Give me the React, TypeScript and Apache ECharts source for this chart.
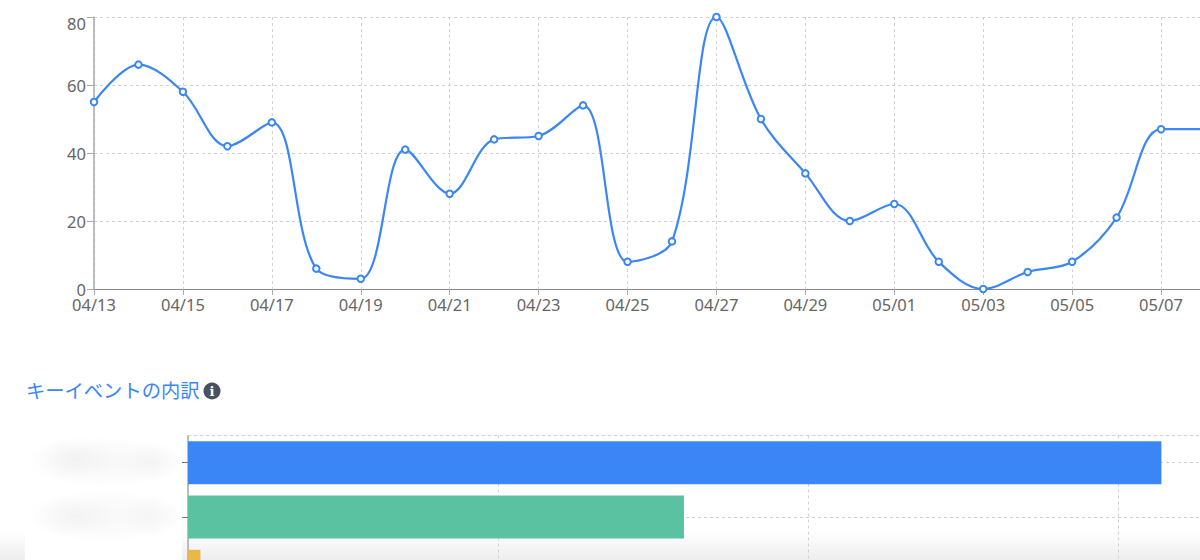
import React, { useEffect, useRef } from "react";
import * as echarts from "echarts";

const dates = ["04/13","04/14","04/15","04/16","04/17","04/18","04/19","04/20","04/21","04/22","04/23","04/24","04/25","04/26","04/27","04/28","04/29","04/30","05/01","05/02","05/03","05/04","05/05","05/06","05/07","05/08"];
const trend = [55,66,58,42,49,6,3,41,28,44,45,54,8,14,80,50,34,20,25,8,0,5,8,21,47,47];
const eventCategories = ["event-1", "event-2", "event-3"];
const eventValues = [314, 160, 4];
const eventColors = ["#3b86f7", "#5ac1a1", "#ebb64a"];
const title = "キーイベントの内訳";

const FONT = "'Noto Sans', Arial, sans-serif";
const GRID_LINE = { color: "#d2d2d2", type: [3, 3] as number[], width: 1 };

const blob = (cx: number, cy: number, rx: number, ry: number, shade: string) => ({
  type: "ellipse",
  z: -5,
  silent: true,
  shape: { cx, cy, rx, ry },
  style: {
    fill: new echarts.graphic.RadialGradient(0.5, 0.5, 0.5, [
      { offset: 0, color: shade },
      { offset: 1, color: "rgba(245,245,245,0)" },
    ]),
  },
});

export default function App() {
  const ref = useRef<HTMLDivElement>(null);
  useEffect(() => {
    const chart = echarts.init(ref.current!, undefined, { renderer: "svg" });
    chart.setOption({
      animation: false,
      backgroundColor: "#ffffff",
      grid: [
        { left: 94, top: 17, width: 1111.5, height: 272, outerBoundsMode: "none" },
        { left: 188, top: 435.5, width: 1240, height: 163, outerBoundsMode: "none" },
      ],
      xAxis: [
        {
          type: "category",
          gridIndex: 0,
          data: dates,
          boundaryGap: false,
          axisLine: { lineStyle: { color: "#888888", width: 1.2 } },
          axisTick: { interval: 1, length: 6, lineStyle: { color: "#aaaaaa" } },
          axisLabel: { interval: 1, color: "#666666", fontFamily: FONT, fontSize: 16.5, lineHeight: 13, margin: 9 },
          splitLine: { show: true, interval: 1, lineStyle: GRID_LINE },
        },
        {
          type: "value",
          gridIndex: 1,
          min: 0,
          max: 400,
          interval: 100,
          axisLine: { show: false },
          axisTick: { show: false },
          axisLabel: { show: false },
          splitLine: { show: true, lineStyle: GRID_LINE },
        },
        {
          type: "value",
          gridIndex: 1,
          position: "top",
          min: 0,
          max: 400,
          interval: 400,
          axisLine: { show: true, lineStyle: GRID_LINE },
          axisTick: { show: false },
          axisLabel: { show: false },
          splitLine: { show: false },
        },
      ],
      yAxis: [
        {
          type: "value",
          gridIndex: 0,
          min: 0,
          max: 80,
          interval: 20,
          axisLine: { show: true, lineStyle: { color: "#aaaaaa", width: 1.5 } },
          axisTick: { show: true, length: 7, lineStyle: { color: "#aaaaaa" } },
          axisLabel: {
            color: "#666666",
            fontFamily: FONT,
            fontSize: 16.5,
            lineHeight: 13,
            margin: 8,
            verticalAlignMaxLabel: "top",
          },
          splitLine: { show: true, lineStyle: GRID_LINE },
        },
        {
          type: "category",
          gridIndex: 1,
          inverse: true,
          data: eventCategories,
          axisLine: { show: true, lineStyle: { color: "#aaaaaa", width: 1.5 } },
          axisTick: { show: true, alignWithLabel: true, length: 6, lineStyle: { color: "#777777" } },
          axisLabel: { show: false },
          splitLine: { show: true, alignWithLabel: true, lineStyle: GRID_LINE },
        },
      ],
      series: [
        {
          type: "line",
          xAxisIndex: 0,
          yAxisIndex: 0,
          data: trend,
          smooth: 0.35,
          clip: false,
          symbol: "circle",
          symbolSize: 6.5,
          showSymbol: true,
          showAllSymbol: true,
          lineStyle: { color: "#3b86f7", width: 2.2 },
          itemStyle: { color: "#ffffff", borderColor: "#3b86f7", borderWidth: 2 },
        },
        {
          type: "bar",
          xAxisIndex: 1,
          yAxisIndex: 1,
          barWidth: 43,
          data: eventValues.map((value, i) => ({ value, itemStyle: { color: eventColors[i] } })),
        },
      ],
      graphic: [
        {
          type: "rect",
          z: -10,
          silent: true,
          shape: { x: 0, y: 530, width: 1200, height: 30 },
          style: {
            fill: new echarts.graphic.LinearGradient(0, 0, 0, 1, [
              { offset: 0, color: "#ffffff" },
              { offset: 1, color: "#eeeeee" },
            ]),
          },
        },
        {
          type: "rect",
          z: -9,
          silent: true,
          shape: { x: 25, y: 430, width: 157, height: 130 },
          style: { fill: "#ffffff" },
        },
        blob(103, 462, 78, 26, "#f7f7f7"),
        blob(75, 459, 40, 22, "#f1f1f1"),
        blob(150, 462, 32, 20, "#f4f4f4"),
        blob(103, 516, 78, 26, "#f8f8f8"),
        blob(75, 516, 40, 22, "#f3f3f3"),
        blob(150, 516, 32, 20, "#f5f5f5"),
        {
          type: "text",
          x: 26,
          y: 380,
          style: {
            text: title,
            fill: "#3b86f7",
            font: "19.3px 'Noto Sans CJK JP', sans-serif",
          },
        },
        { type: "circle", shape: { cx: 212, cy: 391, r: 8.5 }, style: { fill: "#4b5060" } },
        {
          type: "text",
          x: 212,
          y: 391,
          style: {
            text: "i",
            fill: "#ffffff",
            font: "bold 13px 'DejaVu Serif', serif",
            align: "center",
            verticalAlign: "middle",
          },
        },
      ],
    });
    return () => chart.dispose();
  }, []);
  return <div ref={ref} style={{ position: "fixed", left: 0, top: 0, width: 1200, height: 560 }} />;
}
